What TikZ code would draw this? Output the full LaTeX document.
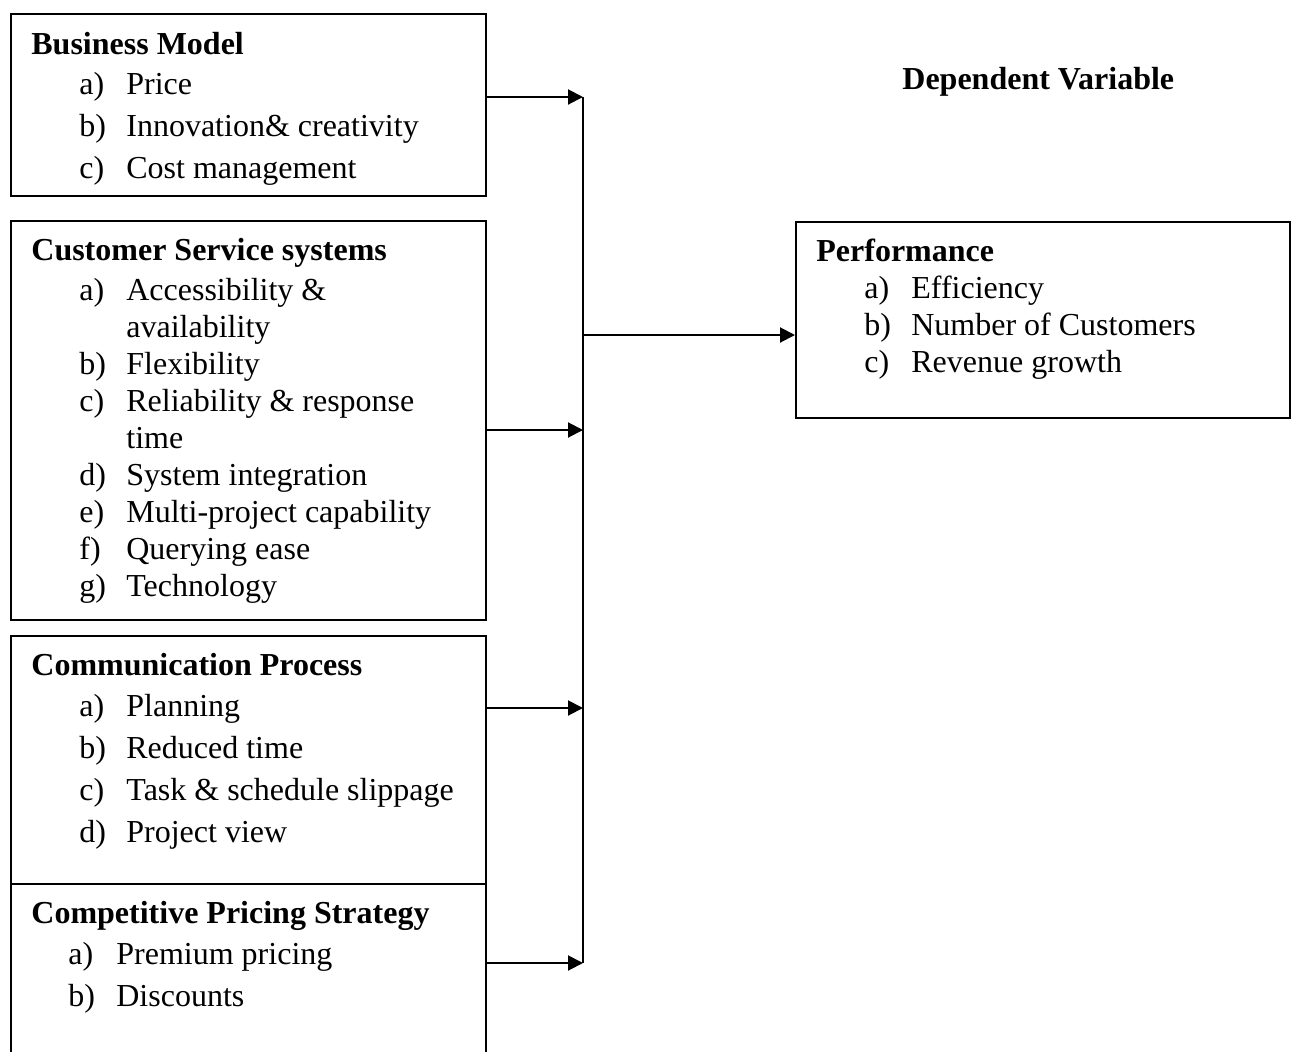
\documentclass[tikz,border=0pt]{standalone}
\usepackage{fontspec}
\setmainfont{Liberation Serif}
\usetikzlibrary{arrows.meta}

\newcommand{\wide}{\fontsize{16}{21}\selectfont}
\newcommand{\tight}{\fontsize{16}{18.5}\selectfont}
\tikzset{
  varbox/.style={draw, line width=1pt, inner sep=0pt, anchor=north west},
  head/.style={anchor=base west, inner sep=0pt, font=\wide\bfseries},
  items/.style={anchor=base west, inner sep=0pt},
  feed/.style={line width=1pt, -{Triangle[length=7.5pt,width=7.5pt]}}
}

\begin{document}
\begin{tikzpicture}[x=0.5pt,y=-0.5pt]
       \useasboundingbox (0,0) rectangle (1292,1051);
       \clip (0,0) rectangle (1292,1051);
       \node[varbox, minimum width=237.5pt, minimum height=91pt] (bm) at (10,13) {};
       \node[varbox, minimum width=237.5pt, minimum height=199.5pt] (css) at (10,220) {};
       \node[varbox, minimum width=237.5pt, minimum height=124pt] (cp) at (10,635) {};
       \node[varbox, minimum width=237.5pt, minimum height=100pt] (cps) at (10,883) {};
       \node[varbox, minimum width=247pt, minimum height=98pt] (perf) at (795,221) {};

       \node[head] (bmhead) at (31,54) {Business Model};
       \node[items, font=\wide] (bmlist) at (79,94) {\begin{tabular}[t]{@{}p{23.5pt}@{}l@{}}
         a) & Price\\ b) & Innovation\& creativity\\ c) & Cost management\end{tabular}};
       \node[head] (csshead) at (31,260) {Customer Service systems};
       \node[items, font=\tight] (csslist) at (79,300) {\begin{tabular}[t]{@{}p{23.5pt}@{}l@{}}
         a) & Accessibility \&\\ & availability\\ b) & Flexibility\\ c) & Reliability \& response\\
         & time\\ d) & System integration\\ e) & Multi-project capability\\ f) & Querying ease\\
         g) & Technology\end{tabular}};
       \node[head] (cphead) at (31,675) {Communication Process};
       \node[items, font=\wide] (cplist) at (79,716) {\begin{tabular}[t]{@{}p{23.5pt}@{}l@{}}
         a) & Planning\\ b) & Reduced time\\ c) & Task \& schedule slippage\\ d) & Project view\end{tabular}};
       \node[head] (cpshead) at (31,923) {Competitive Pricing Strategy};
       \node[items, font=\wide] (cpslist) at (68,964) {\begin{tabular}[t]{@{}p{24pt}@{}l@{}}
         a) & Premium pricing\\ b) & Discounts\end{tabular}};
       \node[head] (perfhead) at (816,261) {Performance};
       \node[items, font=\tight] (perflist) at (864,298) {\begin{tabular}[t]{@{}p{23.5pt}@{}l@{}}
         a) & Efficiency\\ b) & Number of Customers\\ c) & Revenue growth\end{tabular}};
       \node[head] (dv) at (902,89) {Dependent Variable};

       \coordinate (in1) at (583,97);
       \coordinate (in2) at (583,430);
       \coordinate (in3) at (583,708);
       \coordinate (in4) at (583,963);
       \coordinate (out) at (583,335);
       \draw[line width=1pt] (in1) -- (in4);
       \foreach \b/\c in {bm/in1,css/in2,cp/in3,cps/in4}
         \draw[feed] (\c -| \b.east) -- (\c);
       \draw[feed] (out) -- (out -| perf.west);
     \end{tikzpicture}
\end{document}
